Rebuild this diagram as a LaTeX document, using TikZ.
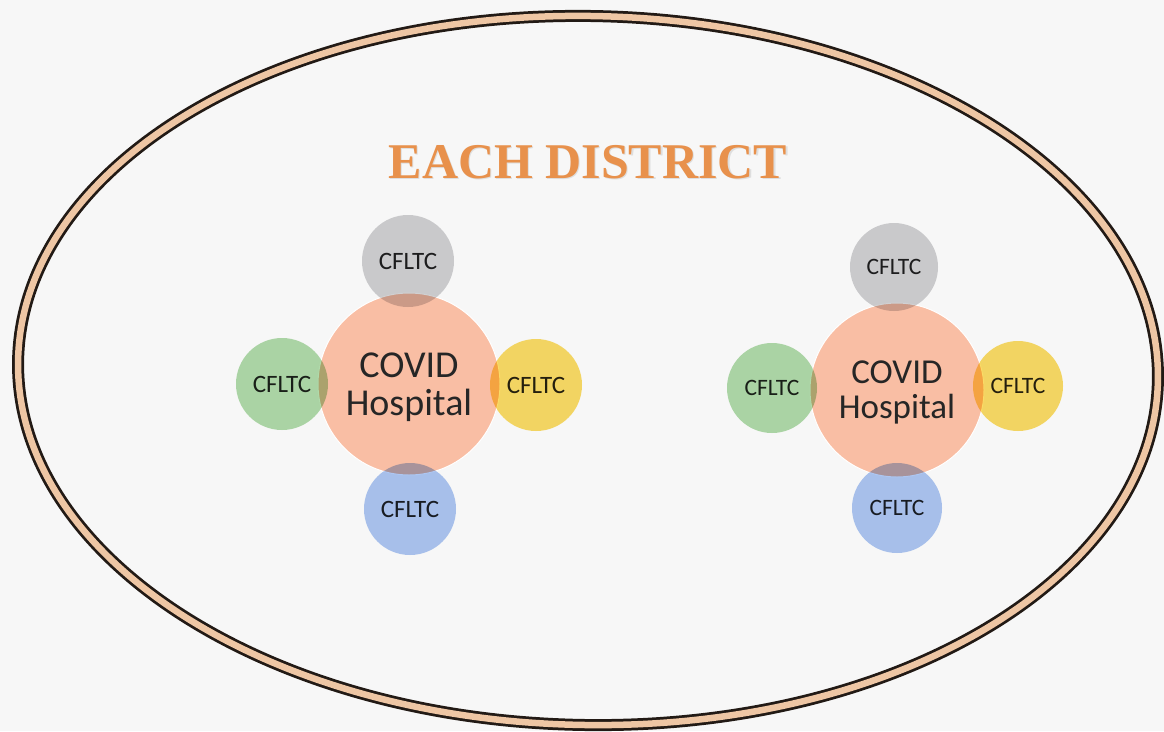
\documentclass[tikz,border=0pt]{standalone}
\usepackage{fontspec}
\setmainfont{Carlito}
\newfontfamily\titlefont{Liberation Serif}
\definecolor{bg}{HTML}{F7F7F7}
\definecolor{ringdark}{HTML}{221A15}
\definecolor{ringtan}{HTML}{EEC6A4}
\definecolor{titleor}{HTML}{E8914C}
\definecolor{salmon}{HTML}{F9BEA4}
\definecolor{cgray}{HTML}{D0D0D2}
\definecolor{cgreen}{HTML}{B0DAAA}
\definecolor{cyellow}{HTML}{FADB66}
\definecolor{cblue}{HTML}{ADC6F2}
\definecolor{txt}{HTML}{262626}
\tikzset{
  hosp/.style={circle, inner sep=0pt, fill=salmon, draw=white, line width=1pt, text=txt, align=center, text depth=0pt},
  sat/.style={circle, inner sep=0pt, draw=white, line width=1pt, text=txt},
}
\begin{document}
\begin{tikzpicture}[x=1pt,y=-1pt]
\useasboundingbox[fill=bg] (0,0) rectangle (1164,731);
% district ring
\draw[line width=12pt, draw=ringdark, rotate around={-1:(588,370.5)}] (588,370.5) ellipse [x radius=570, y radius=354.5];
\draw[line width=6.5pt, draw=ringtan, rotate around={-1:(588,370.5)}] (588,370.5) ellipse [x radius=570, y radius=354.5];
% title
\node[anchor=base, text=black!30, opacity=0.35, font=\titlefont\bfseries\fontsize{50}{50}\selectfont] (titleshadow) at (589.2,179.2) {EACH DISTRICT};
\node[anchor=base, text=titleor, font=\titlefont\bfseries\fontsize{50}{50}\selectfont] (title) at (588,178) {EACH DISTRICT};
% left cluster
\node[hosp, minimum size=182pt, font=\fontsize{38}{38}\selectfont] (hospL) at (409,384) {COVID\\Hospital};
\begin{scope}[blend mode=multiply]
\node[sat, fill=cgray, minimum size=92pt, font=\fontsize{25}{25}\selectfont] (topL) at (408,261) {CFLTC};
\node[sat, fill=cgreen, minimum size=92pt, font=\fontsize{25}{25}\selectfont] (leftL) at (282,384) {CFLTC};
\node[sat, fill=cyellow, minimum size=92pt, font=\fontsize{25}{25}\selectfont] (rightL) at (536,385) {CFLTC};
\node[sat, fill=cblue, minimum size=92pt, font=\fontsize{25}{25}\selectfont] (botL) at (410,509) {CFLTC};
\end{scope}
% right cluster
\node[hosp, minimum size=174pt, font=\fontsize{35}{35}\selectfont] (hospR) at (897,390) {COVID\\Hospital};
\begin{scope}[blend mode=multiply]
\node[sat, fill=cgray, minimum size=88pt, font=\fontsize{23.5}{23.5}\selectfont] (topR) at (894,267) {CFLTC};
\node[sat, fill=cgreen, minimum size=90pt, font=\fontsize{23.5}{23.5}\selectfont] (leftR) at (772,388) {CFLTC};
\node[sat, fill=cyellow, minimum size=90pt, font=\fontsize{23.5}{23.5}\selectfont] (rightR) at (1018,386) {CFLTC};
\node[sat, fill=cblue, minimum size=90pt, font=\fontsize{23.5}{23.5}\selectfont] (botR) at (897,508) {CFLTC};
\end{scope}
\end{tikzpicture}
\end{document}
